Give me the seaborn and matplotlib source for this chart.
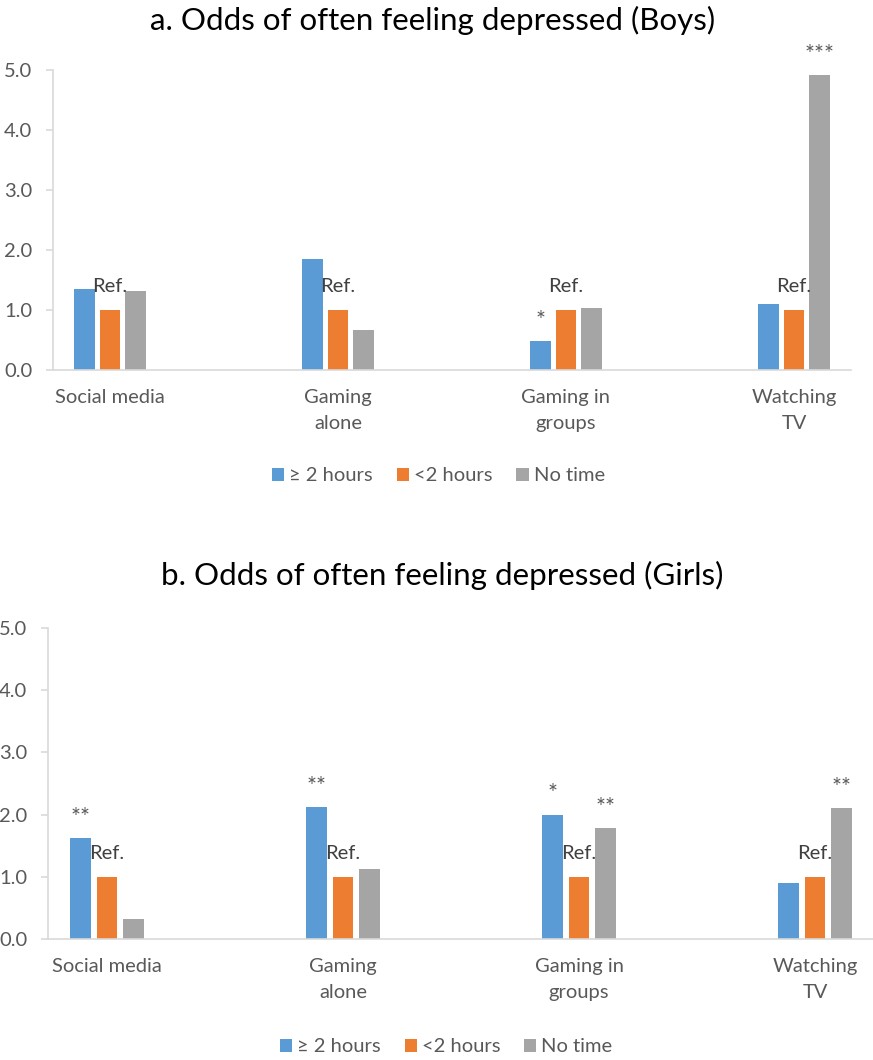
import matplotlib
matplotlib.use('Agg')
import matplotlib.pyplot as plt
import seaborn as sns
import pandas as pd

# data
categories = ['Social media', 'Gaming\nalone', 'Gaming in\ngroups', 'Watching\nTV']
groups = ['\u2265 2 hours', '<2 hours', 'No time']

boys_ge2 = [1.35, 1.85, 0.48, 1.10]
boys_lt2 = [1.0, 1.0, 1.0, 1.0]
boys_none = [1.32, 0.67, 1.03, 4.92]
boys_stars_ge2 = ['', '', '*', '']
boys_stars_none = ['', '', '', '***']

girls_ge2 = [1.62, 2.12, 2.00, 0.90]
girls_lt2 = [1.0, 1.0, 1.0, 1.0]
girls_none = [0.32, 1.12, 1.78, 2.10]
girls_stars_ge2 = ['**', '**', '*', '']
girls_stars_none = ['', '', '**', '**']

colors = ['#5B9BD5', '#ED7D31', '#A5A5A5']

sns.set_style('white')
plt.rcParams['font.family'] = ['Lato', 'DejaVu Sans']
plt.rcParams['font.size'] = 14.5
plt.rcParams['axes.unicode_minus'] = False

TXT = '#595959'
GRID = '#D9D9D9'
FS = 14.5


def make_df(ge2, lt2, none):
    rows = []
    for g, vals in zip(groups, [ge2, lt2, none]):
        for c, v in zip(categories, vals):
            rows.append({'cat': c, 'group': g, 'val': v})
    return pd.DataFrame(rows)


def draw_panel(ax, df, stars_ge2, stars_none):
    sns.barplot(data=df, x='cat', y='val', hue='group', order=categories,
                hue_order=groups, palette=colors, saturation=1, width=0.336, gap=0.21,
                linewidth=0, ax=ax, legend=False, errorbar=None)
    ax.set_xlim(-0.25, 3.25)
    ax.set_ylim(0, 5)
    ax.set_yticks([0, 1, 2, 3, 4, 5])
    ax.set_yticklabels(['%.1f' % t for t in [0, 1, 2, 3, 4, 5]])
    ax.set_xlabel('')
    ax.set_ylabel('')
    for s in ['top', 'right']:
        ax.spines[s].set_visible(False)
    for s in ['left', 'bottom']:
        ax.spines[s].set_color(GRID)
        ax.spines[s].set_linewidth(1.2)
    ax.tick_params(axis='y', length=5, width=1.2, pad=10, colors=TXT,
                   labelsize=FS, left=True)
    ax.tick_params(axis='y', color=GRID)
    ax.tick_params(axis='x', length=0, pad=14, labelcolor=TXT, labelsize=FS)
    for lab in ax.get_xticklabels():
        lab.set_linespacing(1.6)

    # Ref. label over the reference bars
    for bar in ax.containers[1]:
        ax.annotate('Ref.', (bar.get_x() + bar.get_width() / 2, bar.get_height()),
                    xytext=(0, 17), textcoords='offset points', ha='center',
                    va='center', fontsize=FS, color='#404040')
    # significance stars
    for cont, stars in [(ax.containers[0], stars_ge2), (ax.containers[2], stars_none)]:
        for bar, st in zip(cont, stars):
            if st:
                ax.annotate(st, (bar.get_x() + bar.get_width() / 2, bar.get_height()),
                            xytext=(0, 15), textcoords='offset points', ha='center',
                            va='center', fontsize=17, color=TXT,
                            annotation_clip=False)


fig = plt.figure(figsize=(8.73, 10.6), dpi=100)

ax1 = fig.add_axes([0.0607, 0.6509, 0.9141, 0.2830])
draw_panel(ax1, make_df(boys_ge2, boys_lt2, boys_none), boys_stars_ge2, boys_stars_none)

ax2 = fig.add_axes([0.0550, 0.1142, 0.9462, 0.2934])
draw_panel(ax2, make_df(girls_ge2, girls_lt2, girls_none), girls_stars_ge2, girls_stars_none)

fig.text(0.495, 0.981, 'a. Odds of often feeling depressed (Boys)', ha='center',
         va='center', fontsize=22.5, color='black')
fig.text(0.506, 0.4575, 'b. Odds of often feeling depressed (Girls)', ha='center',
         va='center', fontsize=22.5, color='black')

handles = ax1.containers[0][0], ax1.containers[1][0], ax1.containers[2][0]
for y, x in [(0.551, 0.502), (0.0123, 0.511)]:
    leg = fig.legend(handles, groups, loc='center', bbox_to_anchor=(x, y), ncol=3,
                     frameon=False, fontsize=FS, handlelength=0.6, handleheight=0.6,
                     handletextpad=0.25, columnspacing=1.2, labelcolor=TXT)

fig.savefig('out.png', dpi=100)
